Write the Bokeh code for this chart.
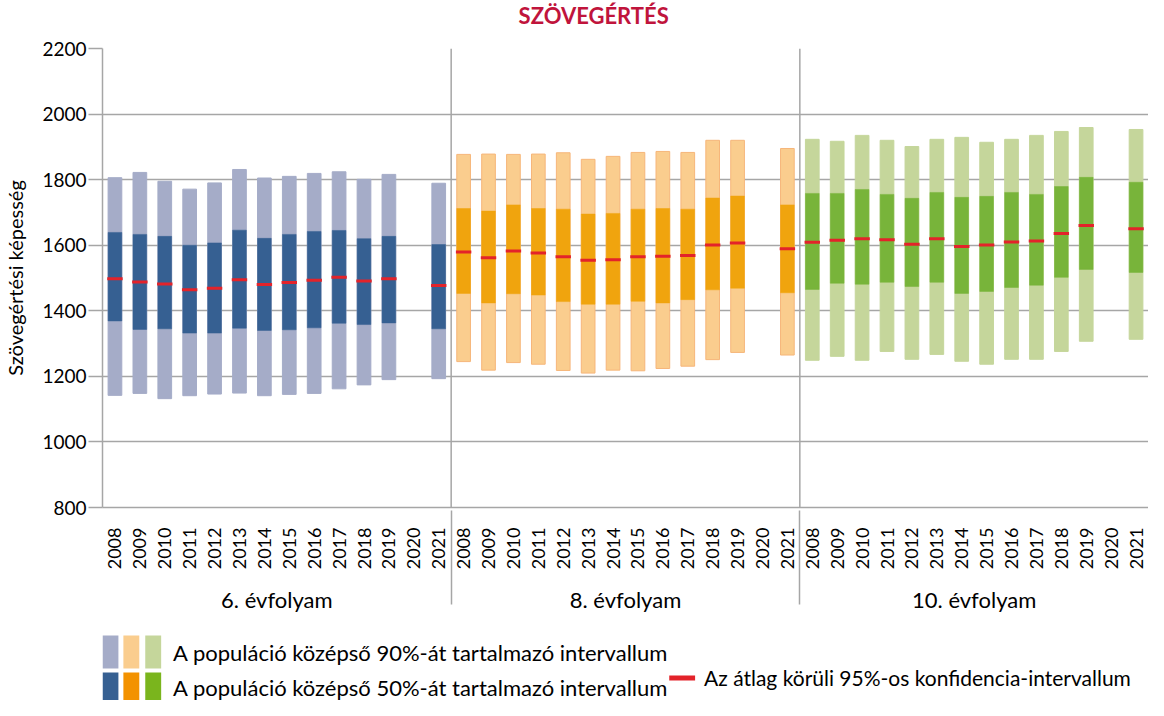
import math
from bokeh.plotting import figure
from bokeh.models import ColumnDataSource, FactorRange, Span, Range1d, FixedTicker
from bokeh.layouts import column
from bokeh.embed import file_html
from bokeh.resources import INLINE
from bokeh.core.properties import value

# ---------------- data ----------------
years = [str(y) for y in range(2008, 2022)]
grades = ["6. évfolyam", "8. évfolyam", "10. évfolyam"]
N = None  # 2020: no measurement

# 6. évfolyam
g6_p05 = [1142, 1148, 1132, 1141, 1146, 1149, 1141, 1145, 1148, 1162, 1174, 1190, N, 1193]
g6_p25 = [1369, 1343, 1345, 1332, 1332, 1347, 1340, 1342, 1348, 1362, 1358, 1363, N, 1345]
g6_mean = [1498, 1488, 1482, 1464, 1469, 1495, 1480, 1486, 1493, 1502, 1491, 1498, N, 1477]
g6_p75 = [1639, 1633, 1627, 1600, 1607, 1646, 1621, 1633, 1642, 1645, 1620, 1627, N, 1602]
g6_p95 = [1806, 1822, 1795, 1771, 1790, 1831, 1805, 1810, 1819, 1824, 1801, 1816, N, 1789]

# 8. évfolyam
g8_p05 = [1245, 1219, 1242, 1237, 1218, 1210, 1219, 1217, 1224, 1231, 1251, 1273, N, 1265]
g8_p25 = [1453, 1424, 1452, 1448, 1428, 1420, 1420, 1429, 1424, 1434, 1464, 1469, N, 1455]
g8_mean = [1579, 1562, 1582, 1576, 1565, 1554, 1556, 1565, 1566, 1569, 1601, 1607, N, 1589]
g8_p75 = [1712, 1704, 1723, 1712, 1710, 1695, 1697, 1710, 1712, 1710, 1744, 1750, N, 1723]
g8_p95 = [1877, 1878, 1877, 1878, 1882, 1862, 1871, 1883, 1886, 1883, 1920, 1920, N, 1895]

# 10. évfolyam
g10_p05 = [1249, 1261, 1249, 1276, 1252, 1267, 1246, 1237, 1252, 1252, 1276, 1307, N, 1313]
g10_p25 = [1465, 1484, 1481, 1487, 1474, 1487, 1453, 1459, 1471, 1478, 1502, 1526, N, 1517]
g10_mean = [1609, 1615, 1620, 1617, 1603, 1620, 1596, 1601, 1610, 1613, 1636, 1660, N, 1650]
g10_p75 = [1758, 1758, 1770, 1755, 1743, 1761, 1746, 1749, 1761, 1755, 1779, 1807, N, 1792]
g10_p95 = [1923, 1917, 1935, 1920, 1901, 1923, 1929, 1914, 1923, 1935, 1947, 1959, N, 1953]

y_ticks = [800, 1000, 1200, 1400, 1600, 1800, 2000, 2200]

title_text = "SZÖVEGÉRTÉS"
y_label = "Szövegértési képesség"
legend_90 = "A populáció középső 90%-át tartalmazó intervallum"
legend_50 = "A populáció középső 50%-át tartalmazó intervallum"
legend_ci = "Az átlag körüli 95%-os konfidencia-intervallum"

# ---------------- styles ----------------
light_colors = ["#A5ACC8", "#FACD8E", "#C5D69B"]
light_lines = ["#A5ACC8", "#F6B67A", "#C5D69B"]
dark_colors = ["#366092", "#F0A40E", "#78B43A"]
legend_dark = ["#366092", "#F39200", "#7AB51D"]
mean_color = "#E3232A"
grid_color = "#A6A6A6"
FONT = "Lato"
W = 1148
LEFT = 96

series = [
    (g6_p05, g6_p25, g6_mean, g6_p75, g6_p95),
    (g8_p05, g8_p25, g8_mean, g8_p75, g8_p95),
    (g10_p05, g10_p25, g10_mean, g10_p75, g10_p95),
]

cols = {k: [] for k in ["x", "p05", "p25", "mean", "p75", "p95", "lc", "ll", "dc"]}
for gi, g in enumerate(grades):
    p05, p25, mean, p75, p95 = series[gi]
    for yi, yr in enumerate(years):
        if mean[yi] is None:
            continue
        cols["x"].append((g, yr))
        cols["p05"].append(p05[yi])
        cols["p25"].append(p25[yi])
        cols["mean"].append(mean[yi])
        cols["p75"].append(p75[yi])
        cols["p95"].append(p95[yi])
        cols["lc"].append(light_colors[gi])
        cols["ll"].append(light_lines[gi])
        cols["dc"].append(dark_colors[gi])
src = ColumnDataSource(cols)


def blank_fig(h):
    f = figure(width=W, height=h, x_range=Range1d(LEFT, W), y_range=Range1d(h, 0),
               toolbar_location=None, output_backend="svg",
               min_border_left=LEFT, min_border_right=0, min_border_top=0, min_border_bottom=0)
    f.axis.visible = False
    f.grid.visible = False
    f.outline_line_color = None
    return f


# ---------------- title ----------------
tfig = blank_fig(30)
tfig.text(x=[590], y=[15], text=[title_text], text_font=value(FONT), text_font_size="22px",
          text_font_style="bold", text_color="#C0143C", text_align="center", text_baseline="middle")

# ---------------- main chart ----------------
factors = [(g, y) for g in grades for y in years]
x_range = FactorRange(*factors, factor_padding=0, group_padding=0, range_padding=0)

p = figure(width=W, height=587, x_range=x_range, y_range=Range1d(800, 2200),
           toolbar_location=None, output_backend="svg",
           min_border_left=LEFT, min_border_right=0, min_border_top=18, min_border_bottom=110)
p.outline_line_color = None

p.vbar(x="x", bottom="p05", top="p95", width=0.55, source=src,
       fill_color="lc", line_color="ll", line_width=1)
p.vbar(x="x", bottom="p25", top="p75", width=0.55, source=src,
       fill_color="dc", line_color="dc", line_width=0.5)
p.rect(x="x", y="mean", width=0.62, height=3, height_units="screen",
       source=src, fill_color=mean_color, line_color=None)

p.xgrid.visible = False
p.ygrid.grid_line_color = grid_color
p.ygrid.grid_line_width = 1.5
p.yaxis.ticker = FixedTicker(ticks=y_ticks)
p.yaxis.axis_line_color = grid_color
p.yaxis.axis_line_width = 1.5
p.yaxis.major_tick_line_color = grid_color
p.yaxis.major_tick_line_width = 1.5
p.yaxis.major_tick_out = 14
p.yaxis.major_tick_in = 0
p.yaxis.minor_tick_line_color = None
p.yaxis.major_label_standoff = 2
p.yaxis.major_label_text_font = FONT
p.yaxis.major_label_text_font_size = "19px"
p.yaxis.major_label_text_color = "black"
p.yaxis.axis_label = y_label
p.yaxis.axis_label_text_font = FONT
p.yaxis.axis_label_text_font_size = "20px"
p.yaxis.axis_label_text_font_style = "normal"
p.yaxis.axis_label_text_color = "black"
p.yaxis.axis_label_standoff = 12

p.xaxis.axis_line_color = grid_color
p.xaxis.axis_line_width = 1.5
p.xaxis.major_tick_line_color = None
p.xaxis.minor_tick_line_color = None
p.xaxis.major_label_orientation = math.pi / 2
p.xaxis.major_label_standoff = 14
p.xaxis.major_label_text_font = FONT
p.xaxis.major_label_text_font_size = "18px"
p.xaxis.major_label_text_color = "black"
p.xaxis.group_text_font = FONT
p.xaxis.group_text_font_size = "22px"
p.xaxis.group_text_font_style = "normal"
p.xaxis.group_text_color = "black"
p.xaxis.group_label_orientation = "horizontal"
p.xaxis.separator_line_color = grid_color
p.xaxis.separator_line_width = 1.5

for loc in [len(years), 2 * len(years)]:
    p.add_layout(Span(location=loc, dimension="height", line_color=grid_color, line_width=1.5))

# ---------------- legend ----------------
leg = blank_fig(83)
sw_left = [96, 117, 139]
sw_w = 16
leg.quad(left=sw_left, right=[v + sw_w for v in sw_left], top=[18] * 3, bottom=[51] * 3,
         fill_color=light_colors, line_color=None)
leg.quad(left=sw_left, right=[v + sw_w for v in sw_left], top=[55] * 3, bottom=[83] * 3,
         fill_color=legend_dark, line_color=None)
leg.text(x=[167, 167], y=[35, 70], text=[legend_90, legend_50],
         text_font=value(FONT), text_font_size="22px", text_baseline="middle", text_color="black")
leg.quad(left=[666], right=[692], top=[58], bottom=[63], fill_color=mean_color, line_color=None)
leg.text(x=[701], y=[60], text=[legend_ci],
         text_font=value(FONT), text_font_size="21px", text_baseline="middle", text_color="black")

layout = column(tfig, p, leg, spacing=0)
open("out.html", "w").write(file_html(layout, INLINE))
